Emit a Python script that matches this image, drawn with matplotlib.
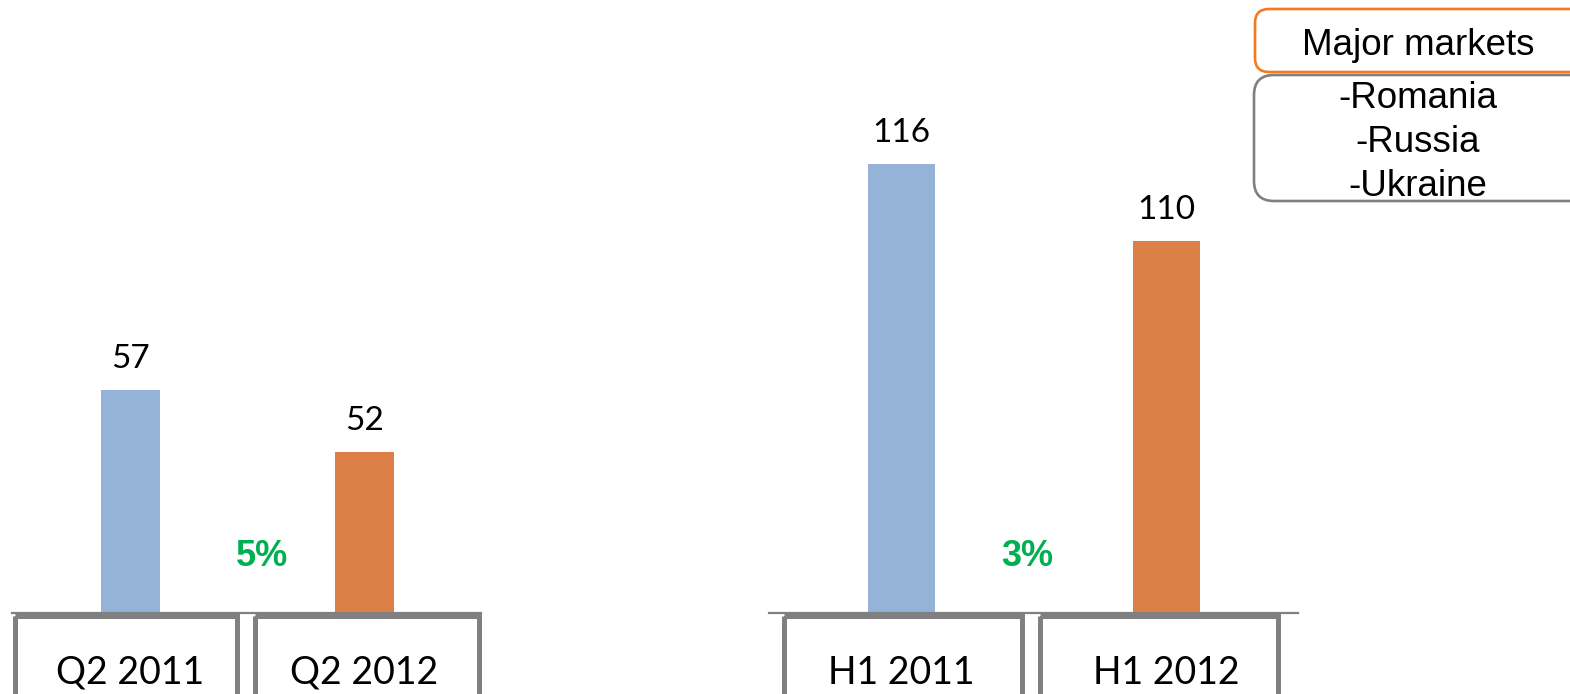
import matplotlib
matplotlib.use("Agg")
import matplotlib.pyplot as plt
from matplotlib.patches import Rectangle, FancyBboxPatch

# ---- data ----
q_categories = ["Q2 2011", "Q2 2012"]
q_values = [57, 52]
q_change = "5%"
h_categories = ["H1 2011", "H1 2012"]
h_values = [116, 110]
h_change = "3%"
legend_title = "Major markets"
legend_items = ["-Romania", "-Russia", "-Ukraine"]

BLUE = "#95B3D7"
ORANGE = "#DD8047"
GRAY = "#808080"
GREEN = "#00B050"
W, H = 1570, 694

fig = plt.figure(figsize=(W / 100, H / 100), dpi=100)


def fpos(x0, x1, ytop, ybot):
    return [x0 / W, (H - ybot) / H, (x1 - x0) / W, (ybot - ytop) / H]


def draw_chart(rect, cats, vals, ylim, xlim, width, change, change_x):
    ax = fig.add_axes(rect)
    ax.bar(range(len(vals)), vals, width=width, color=[BLUE, ORANGE], zorder=2)
    ax.set_xlim(*xlim)
    ax.set_ylim(*ylim)
    for s in ["left", "right", "top"]:
        ax.spines[s].set_visible(False)
    ax.spines["bottom"].set_color(GRAY)
    ax.spines["bottom"].set_linewidth(1.6)
    ax.set_xticks([])
    ax.set_yticks([])
    ax.patch.set_visible(False)
    for i, v in enumerate(vals):
        ax.annotate(str(v), (i, v), xytext=(0, 22), textcoords="offset points",
                    ha="center", va="center", fontsize=24, family="Lato")
        ax.annotate(cats[i], (i, ylim[0]), xytext=(0, -43), textcoords="offset points",
                    ha="center", va="center", fontsize=27, family="Lato",
                    annotation_clip=False)
    ax.annotate(change, (change_x, ylim[0]), xytext=(0, 40.5), textcoords="offset points",
                ha="center", va="center", fontsize=26, fontweight="bold",
                family="Liberation Sans", color=GREEN)
    return ax


draw_chart(fpos(12, 481, 10, 613), q_categories, q_values, (39, 87.6),
           (-0.506, 1.498), 0.252, q_change, 0.562)
draw_chart(fpos(769, 1298, 10, 613), h_categories, h_values, (81, 128.0),
           (-0.5, 1.496), 0.253, h_change, 0.474)

# overlay in pixel coordinates for decorations
ov = fig.add_axes([0, 0, 1, 1])
ov.set_xlim(0, W)
ov.set_ylim(H, 0)
ov.axis("off")
ov.patch.set_visible(False)

for (x0, x1) in [(14.5, 236.5), (254.5, 478.5), (783.5, 1021.5), (1039.5, 1277.5)]:
    ov.add_patch(Rectangle((x0, 615.5), x1 - x0, 120, fill=False,
                           edgecolor=GRAY, linewidth=3.6, clip_on=False))

ov.add_patch(FancyBboxPatch((1255, 9), 340, 63,
                            boxstyle="round,pad=0,rounding_size=14",
                            fill=False, edgecolor="#F47A20", linewidth=1.9,
                            clip_on=False))
ov.add_patch(FancyBboxPatch((1254, 75), 340, 126,
                            boxstyle="round,pad=0,rounding_size=20",
                            fill=False, edgecolor=GRAY, linewidth=1.9,
                            clip_on=False))
ov.text(1418, 45, legend_title, ha="center", va="center", fontsize=26.5,
        family="Liberation Sans")
for i, t in enumerate(legend_items):
    ov.text(1418, 98 + 44 * i, t, ha="center", va="center", fontsize=26.5,
            family="Liberation Sans")

fig.savefig("out.png", dpi=100)
